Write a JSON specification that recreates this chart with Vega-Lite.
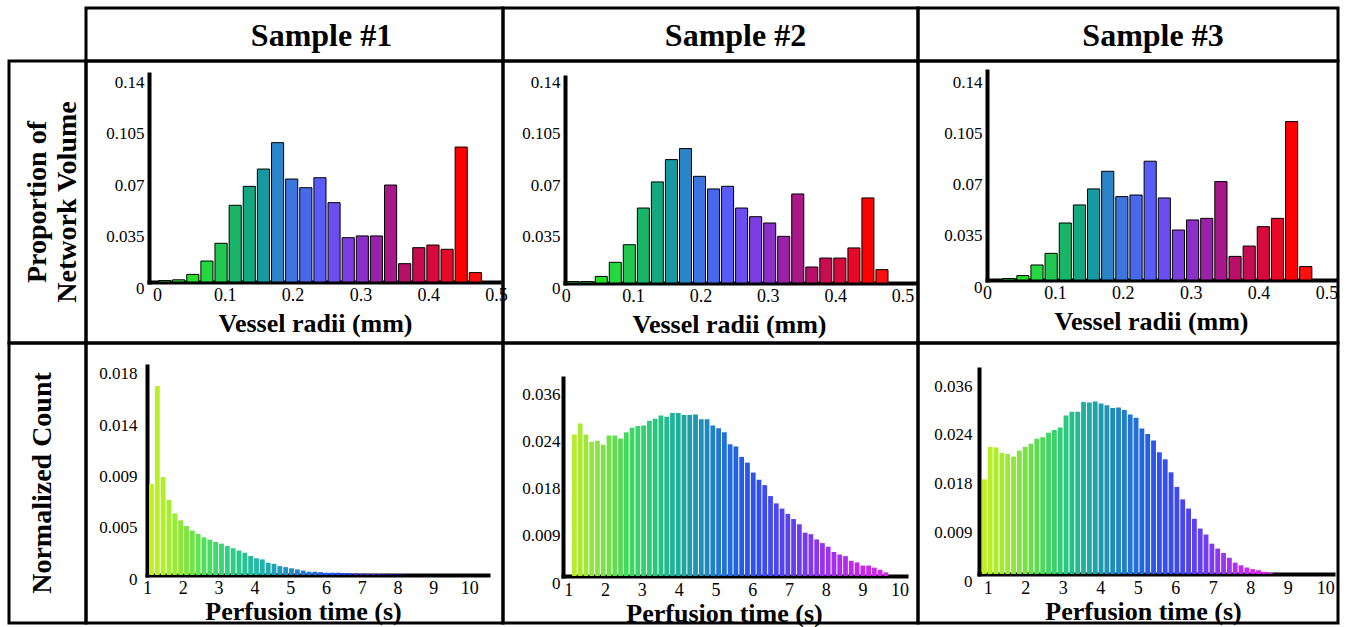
{
  "$schema": "https://vega.github.io/schema/vega-lite/v6.json",
  "background": "white",
  "padding": {"left": 7, "top": 6, "right": 0, "bottom": 0},
  "bounds": "flush",
  "align": "each",
  "columns": 4,
  "spacing": 0,
  "resolve": {"scale": {"color": "independent", "x": "independent", "y": "independent"}},
  "config": {
    "view": {"stroke": "black", "strokeWidth": 3},
    "axis": {
      "domainColor": "black", "domainWidth": 4, "domainCap": "square",
      "ticks": false, "grid": false,
      "labelFont": "Liberation Serif", "labelColor": "black", "labelFontSize": 17,
      "labelFlush": false, "labelOverlap": false, "labelBound": false,
      "titleFont": "Liberation Serif", "titleFontWeight": "bold", "titleColor": "black",
      "zindex": 1
    }
  },
  "datasets": {
    "top": [
      {"r0": 0.0, "r1": 0.0208, "a": 0.001, "b": 0.001, "c": 0.0},
      {"r0": 0.0208, "r1": 0.0417, "a": 0.0015, "b": 0.001, "c": 0.001},
      {"r0": 0.0417, "r1": 0.0625, "a": 0.0052, "b": 0.0045, "c": 0.003},
      {"r0": 0.0625, "r1": 0.0833, "a": 0.0143, "b": 0.0141, "c": 0.0103},
      {"r0": 0.0833, "r1": 0.1042, "a": 0.0264, "b": 0.0261, "c": 0.0183},
      {"r0": 0.1042, "r1": 0.125, "a": 0.0523, "b": 0.0511, "c": 0.0391},
      {"r0": 0.125, "r1": 0.1458, "a": 0.0652, "b": 0.0689, "c": 0.0515},
      {"r0": 0.1458, "r1": 0.1667, "a": 0.077, "b": 0.0841, "c": 0.0625},
      {"r0": 0.1667, "r1": 0.1875, "a": 0.095, "b": 0.0916, "c": 0.0746},
      {"r0": 0.1875, "r1": 0.2083, "a": 0.0702, "b": 0.0727, "c": 0.0572},
      {"r0": 0.2083, "r1": 0.2292, "a": 0.0643, "b": 0.0641, "c": 0.0583},
      {"r0": 0.2292, "r1": 0.25, "a": 0.0711, "b": 0.0659, "c": 0.0815},
      {"r0": 0.25, "r1": 0.2708, "a": 0.0541, "b": 0.0511, "c": 0.0563},
      {"r0": 0.2708, "r1": 0.2917, "a": 0.0302, "b": 0.0452, "c": 0.0343},
      {"r0": 0.2917, "r1": 0.3125, "a": 0.0314, "b": 0.0409, "c": 0.0412},
      {"r0": 0.3125, "r1": 0.3333, "a": 0.0314, "b": 0.0318, "c": 0.0423},
      {"r0": 0.3333, "r1": 0.3542, "a": 0.0661, "b": 0.0607, "c": 0.0675},
      {"r0": 0.3542, "r1": 0.375, "a": 0.0125, "b": 0.0109, "c": 0.0162},
      {"r0": 0.375, "r1": 0.3958, "a": 0.0234, "b": 0.017, "c": 0.0233},
      {"r0": 0.3958, "r1": 0.4167, "a": 0.0252, "b": 0.017, "c": 0.0366},
      {"r0": 0.4167, "r1": 0.4375, "a": 0.0223, "b": 0.0239, "c": 0.0423},
      {"r0": 0.4375, "r1": 0.4583, "a": 0.092, "b": 0.058, "c": 0.1087},
      {"r0": 0.4583, "r1": 0.4792, "a": 0.0064, "b": 0.0091, "c": 0.0092}
    ],
    "bot1": [
      {"t": 1.030, "t2": 1.193, "v": 0.0080},
      {"t": 1.193, "t2": 1.356, "v": 0.0166},
      {"t": 1.356, "t2": 1.519, "v": 0.0086},
      {"t": 1.519, "t2": 1.682, "v": 0.0066},
      {"t": 1.682, "t2": 1.845, "v": 0.0054},
      {"t": 1.845, "t2": 2.008, "v": 0.0048},
      {"t": 2.008, "t2": 2.171, "v": 0.0043},
      {"t": 2.171, "t2": 2.334, "v": 0.0039},
      {"t": 2.334, "t2": 2.497, "v": 0.0036},
      {"t": 2.497, "t2": 2.660, "v": 0.0033},
      {"t": 2.660, "t2": 2.823, "v": 0.0031},
      {"t": 2.823, "t2": 2.986, "v": 0.0029},
      {"t": 2.986, "t2": 3.149, "v": 0.00275},
      {"t": 3.149, "t2": 3.312, "v": 0.00255},
      {"t": 3.312, "t2": 3.475, "v": 0.00235},
      {"t": 3.475, "t2": 3.638, "v": 0.00215},
      {"t": 3.638, "t2": 3.801, "v": 0.00196},
      {"t": 3.801, "t2": 3.964, "v": 0.00167},
      {"t": 3.964, "t2": 4.127, "v": 0.00147},
      {"t": 4.127, "t2": 4.290, "v": 0.00137},
      {"t": 4.290, "t2": 4.453, "v": 0.00108},
      {"t": 4.453, "t2": 4.616, "v": 0.00098},
      {"t": 4.616, "t2": 4.779, "v": 0.00078},
      {"t": 4.779, "t2": 4.942, "v": 0.00069},
      {"t": 4.942, "t2": 5.105, "v": 0.00059},
      {"t": 5.105, "t2": 5.268, "v": 0.00049},
      {"t": 5.268, "t2": 5.431, "v": 0.00039},
      {"t": 5.431, "t2": 5.594, "v": 0.00029},
      {"t": 5.594, "t2": 5.757, "v": 0.00029},
      {"t": 5.757, "t2": 5.920, "v": 0.00025},
      {"t": 5.920, "t2": 6.083, "v": 0.0002},
      {"t": 6.083, "t2": 6.246, "v": 0.0002},
      {"t": 6.246, "t2": 6.409, "v": 0.0002},
      {"t": 6.409, "t2": 6.572, "v": 0.00017},
      {"t": 6.572, "t2": 6.735, "v": 0.00015},
      {"t": 6.735, "t2": 6.898, "v": 0.00013},
      {"t": 6.898, "t2": 7.061, "v": 0.00011},
      {"t": 7.061, "t2": 7.224, "v": 0.0001},
      {"t": 7.224, "t2": 7.387, "v": 0.00008},
      {"t": 7.387, "t2": 7.550, "v": 0.00007},
      {"t": 7.550, "t2": 7.713, "v": 0.00006},
      {"t": 7.713, "t2": 7.876, "v": 0.00005},
      {"t": 7.876, "t2": 8.039, "v": 0.00004},
      {"t": 8.039, "t2": 8.202, "v": 0.00003}
    ],
    "bot2": [
      {"t": 1.074, "t2": 1.231, "v": 0.0271},
      {"t": 1.231, "t2": 1.388, "v": 0.0292},
      {"t": 1.388, "t2": 1.544, "v": 0.0271},
      {"t": 1.544, "t2": 1.701, "v": 0.0257},
      {"t": 1.701, "t2": 1.858, "v": 0.0259},
      {"t": 1.858, "t2": 2.015, "v": 0.0251},
      {"t": 2.015, "t2": 2.172, "v": 0.0269},
      {"t": 2.172, "t2": 2.328, "v": 0.0269},
      {"t": 2.328, "t2": 2.485, "v": 0.0263},
      {"t": 2.485, "t2": 2.642, "v": 0.0275},
      {"t": 2.642, "t2": 2.799, "v": 0.0284},
      {"t": 2.799, "t2": 2.956, "v": 0.0287},
      {"t": 2.956, "t2": 3.112, "v": 0.0288},
      {"t": 3.112, "t2": 3.269, "v": 0.0297},
      {"t": 3.269, "t2": 3.426, "v": 0.0301},
      {"t": 3.426, "t2": 3.583, "v": 0.0307},
      {"t": 3.583, "t2": 3.740, "v": 0.0305},
      {"t": 3.740, "t2": 3.896, "v": 0.0312},
      {"t": 3.896, "t2": 4.053, "v": 0.0312},
      {"t": 4.053, "t2": 4.210, "v": 0.0308},
      {"t": 4.210, "t2": 4.367, "v": 0.0308},
      {"t": 4.367, "t2": 4.524, "v": 0.0309},
      {"t": 4.524, "t2": 4.680, "v": 0.0300},
      {"t": 4.680, "t2": 4.837, "v": 0.0300},
      {"t": 4.837, "t2": 4.994, "v": 0.0288},
      {"t": 4.994, "t2": 5.151, "v": 0.0283},
      {"t": 5.151, "t2": 5.308, "v": 0.0275},
      {"t": 5.308, "t2": 5.464, "v": 0.0252},
      {"t": 5.464, "t2": 5.621, "v": 0.0248},
      {"t": 5.621, "t2": 5.778, "v": 0.0228},
      {"t": 5.778, "t2": 5.935, "v": 0.0217},
      {"t": 5.935, "t2": 6.092, "v": 0.0198},
      {"t": 6.092, "t2": 6.248, "v": 0.0184},
      {"t": 6.248, "t2": 6.405, "v": 0.0174},
      {"t": 6.405, "t2": 6.562, "v": 0.0153},
      {"t": 6.562, "t2": 6.719, "v": 0.0139},
      {"t": 6.719, "t2": 6.876, "v": 0.0129},
      {"t": 6.876, "t2": 7.032, "v": 0.0119},
      {"t": 7.032, "t2": 7.189, "v": 0.0109},
      {"t": 7.189, "t2": 7.346, "v": 0.0099},
      {"t": 7.346, "t2": 7.503, "v": 0.0083},
      {"t": 7.503, "t2": 7.660, "v": 0.0080},
      {"t": 7.660, "t2": 7.816, "v": 0.0070},
      {"t": 7.816, "t2": 7.973, "v": 0.0063},
      {"t": 7.973, "t2": 8.130, "v": 0.0056},
      {"t": 8.130, "t2": 8.287, "v": 0.0046},
      {"t": 8.287, "t2": 8.444, "v": 0.0041},
      {"t": 8.444, "t2": 8.600, "v": 0.0038},
      {"t": 8.600, "t2": 8.757, "v": 0.0029},
      {"t": 8.757, "t2": 8.914, "v": 0.0026},
      {"t": 8.914, "t2": 9.071, "v": 0.0020},
      {"t": 9.071, "t2": 9.228, "v": 0.0020},
      {"t": 9.228, "t2": 9.384, "v": 0.0016},
      {"t": 9.384, "t2": 9.541, "v": 0.0012},
      {"t": 9.541, "t2": 9.698, "v": 0.0007}
    ],
    "bot3": [
      {"t": 0.820, "t2": 0.976, "v": 0.0175},
      {"t": 0.976, "t2": 1.131, "v": 0.0235},
      {"t": 1.131, "t2": 1.287, "v": 0.0234},
      {"t": 1.287, "t2": 1.442, "v": 0.0224},
      {"t": 1.442, "t2": 1.598, "v": 0.0222},
      {"t": 1.598, "t2": 1.754, "v": 0.0217},
      {"t": 1.754, "t2": 1.909, "v": 0.0228},
      {"t": 1.909, "t2": 2.065, "v": 0.0235},
      {"t": 2.065, "t2": 2.220, "v": 0.0241},
      {"t": 2.220, "t2": 2.376, "v": 0.0250},
      {"t": 2.376, "t2": 2.532, "v": 0.0253},
      {"t": 2.532, "t2": 2.687, "v": 0.0261},
      {"t": 2.687, "t2": 2.843, "v": 0.0266},
      {"t": 2.843, "t2": 2.998, "v": 0.0271},
      {"t": 2.998, "t2": 3.154, "v": 0.0293},
      {"t": 3.154, "t2": 3.310, "v": 0.0300},
      {"t": 3.310, "t2": 3.465, "v": 0.0300},
      {"t": 3.465, "t2": 3.621, "v": 0.0318},
      {"t": 3.621, "t2": 3.776, "v": 0.0317},
      {"t": 3.776, "t2": 3.932, "v": 0.0319},
      {"t": 3.932, "t2": 4.088, "v": 0.0315},
      {"t": 4.088, "t2": 4.243, "v": 0.0312},
      {"t": 4.243, "t2": 4.399, "v": 0.0307},
      {"t": 4.399, "t2": 4.554, "v": 0.0308},
      {"t": 4.554, "t2": 4.710, "v": 0.0303},
      {"t": 4.710, "t2": 4.866, "v": 0.0295},
      {"t": 4.866, "t2": 5.021, "v": 0.0289},
      {"t": 5.021, "t2": 5.177, "v": 0.0269},
      {"t": 5.177, "t2": 5.332, "v": 0.0259},
      {"t": 5.332, "t2": 5.488, "v": 0.0247},
      {"t": 5.488, "t2": 5.644, "v": 0.0225},
      {"t": 5.644, "t2": 5.799, "v": 0.0212},
      {"t": 5.799, "t2": 5.955, "v": 0.0188},
      {"t": 5.955, "t2": 6.110, "v": 0.0161},
      {"t": 6.110, "t2": 6.266, "v": 0.0138},
      {"t": 6.266, "t2": 6.422, "v": 0.0121},
      {"t": 6.422, "t2": 6.577, "v": 0.0102},
      {"t": 6.577, "t2": 6.733, "v": 0.0084},
      {"t": 6.733, "t2": 6.888, "v": 0.0073},
      {"t": 6.888, "t2": 7.044, "v": 0.0056},
      {"t": 7.044, "t2": 7.200, "v": 0.0047},
      {"t": 7.200, "t2": 7.355, "v": 0.0039},
      {"t": 7.355, "t2": 7.511, "v": 0.0030},
      {"t": 7.511, "t2": 7.666, "v": 0.0021},
      {"t": 7.666, "t2": 7.822, "v": 0.0016},
      {"t": 7.822, "t2": 7.978, "v": 0.0012},
      {"t": 7.978, "t2": 8.133, "v": 0.0009},
      {"t": 8.133, "t2": 8.289, "v": 0.0007},
      {"t": 8.289, "t2": 8.444, "v": 0.0004},
      {"t": 8.444, "t2": 8.600, "v": 0.0002}
    ]
  },
  "concat": [
    {"width": 77, "height": 53, "view": {"stroke": null}, "data": {"values": [{"t": ""}]}, "mark": {"type": "text"}, "encoding": {"text": {"field": "t"}}},
    {"width": 417, "height": 53, "data": {"values": [{"t": "Sample #1"}]}, "mark": {"type": "text", "font": "Liberation Serif", "fontWeight": "bold", "fontSize": 32, "align": "center", "baseline": "middle", "dx": 27, "dy": 1, "color": "black"},
     "encoding": {"text": {"field": "t"}, "x": {"datum": 0, "type": "quantitative", "scale": {"domain": [-1, 1]}, "axis": null}, "y": {"datum": 0, "type": "quantitative", "scale": {"domain": [-1, 1]}, "axis": null}}},
    {"width": 415, "height": 53, "data": {"values": [{"t": "Sample #2"}]}, "mark": {"type": "text", "font": "Liberation Serif", "fontWeight": "bold", "fontSize": 32, "align": "center", "baseline": "middle", "dx": 25, "dy": 1, "color": "black"},
     "encoding": {"text": {"field": "t"}, "x": {"datum": 0, "type": "quantitative", "scale": {"domain": [-1, 1]}, "axis": null}, "y": {"datum": 0, "type": "quantitative", "scale": {"domain": [-1, 1]}, "axis": null}}},
    {"width": 420, "height": 53, "data": {"values": [{"t": "Sample #3"}]}, "mark": {"type": "text", "font": "Liberation Serif", "fontWeight": "bold", "fontSize": 32, "align": "center", "baseline": "middle", "dx": 25, "dy": 1, "color": "black"},
     "encoding": {"text": {"field": "t"}, "x": {"datum": 0, "type": "quantitative", "scale": {"domain": [-1, 1]}, "axis": null}, "y": {"datum": 0, "type": "quantitative", "scale": {"domain": [-1, 1]}, "axis": null}}},
    {"width": 77, "height": 282, "data": {"values": [{"t": "Proportion of\nNetwork Volume"}]}, "mark": {"type": "text", "angle": 270, "lineBreak": "\n", "font": "Liberation Serif", "fontWeight": "bold", "fontSize": 28, "lineHeight": 30, "align": "center", "baseline": "middle", "dy": -10, "color": "black"},
     "encoding": {"text": {"field": "t"}, "x": {"datum": 0, "type": "quantitative", "scale": {"domain": [-1, 1]}, "axis": null}, "y": {"datum": 0, "type": "quantitative", "scale": {"domain": [-1, 1]}, "axis": null}}},
    {
      "width": 417, "height": 282, "data": {"name": "top"},
      "mark": {"type": "bar", "stroke": "black", "strokeWidth": 1, "binSpacing": 2},
      "encoding": {
        "x": {"field": "r0", "type": "quantitative", "bin": {"binned": true},
              "scale": {"domain": [-0.0118, 0.5044], "range": [63, 413], "nice": false, "zero": false},
              "axis": {"values": [0, 0.1, 0.2, 0.3, 0.4, 0.5], "format": ".1~f", "offset": -61, "labelPadding": 4, "labelFontSize": 18, "title": "Vessel radii (mm)", "titleFontSize": 26, "titlePadding": 6, "titleX": 229}},
        "x2": {"field": "r1"},
        "y": {"field": "a", "type": "quantitative", "stack": null,
              "scale": {"domain": [0, 0.1418], "range": [221, 13], "nice": false, "zero": false},
              "axis": {"values": [0, 0.035, 0.07, 0.105, 0.14], "format": ".3~f", "offset": -63, "labelPadding": 5, "labelOffset": 6, "title": null}},
        "color": {"field": "r0", "type": "quantitative", "legend": null,
                  "scale": {"interpolate": "rgb", "domain": [0, 0.0417, 0.0625, 0.0833, 0.1042, 0.125, 0.1458, 0.1667, 0.1875, 0.2083, 0.2292, 0.25, 0.2708, 0.2917, 0.3125, 0.3333, 0.3542, 0.375, 0.3958, 0.4167, 0.4375, 0.4583],
                            "range": ["#20d828", "#28e028", "#24d840", "#20c850", "#18b468", "#14a880", "#1898a0", "#2c84c8", "#3c74e0", "#4868ec", "#5a5cfa", "#6c4ef0", "#7c3ee0", "#8c2ec8", "#9a22a8", "#a81888", "#b81068", "#c80c50", "#d80a3c", "#e80828", "#ff0000", "#ff1010"]}}
      }
    },
    {
      "width": 415, "height": 282, "data": {"name": "top"},
      "mark": {"type": "bar", "stroke": "black", "strokeWidth": 1, "binSpacing": 2},
      "encoding": {
        "x": {"field": "r0", "type": "quantitative", "bin": {"binned": true},
              "scale": {"domain": [-0.001, 0.52], "range": [62, 413], "nice": false, "zero": false},
              "axis": {"values": [0, 0.1, 0.2, 0.3, 0.4, 0.5], "format": ".1~f", "offset": -60, "labelPadding": 4, "labelFontSize": 18, "title": "Vessel radii (mm)", "titleFontSize": 26, "titlePadding": 6, "titleX": 226}},
        "x2": {"field": "r1"},
        "y": {"field": "b", "type": "quantitative", "stack": null,
              "scale": {"domain": [0, 0.1404], "range": [222, 16], "nice": false, "zero": false},
              "axis": {"values": [0, 0.035, 0.07, 0.105, 0.14], "format": ".3~f", "offset": -62, "labelPadding": 5, "labelOffset": 5, "title": null}},
        "color": {"field": "r0", "type": "quantitative", "legend": null,
                  "scale": {"interpolate": "rgb", "domain": [0, 0.0417, 0.0625, 0.0833, 0.1042, 0.125, 0.1458, 0.1667, 0.1875, 0.2083, 0.2292, 0.25, 0.2708, 0.2917, 0.3125, 0.3333, 0.3542, 0.375, 0.3958, 0.4167, 0.4375, 0.4583],
                            "range": ["#20d828", "#28e028", "#24d840", "#20c850", "#18b468", "#14a880", "#1898a0", "#2c84c8", "#3c74e0", "#4868ec", "#5a5cfa", "#6c4ef0", "#7c3ee0", "#8c2ec8", "#9a22a8", "#a81888", "#b81068", "#c80c50", "#d80a3c", "#e80828", "#ff0000", "#ff1010"]}}
      }
    },
    {
      "width": 420, "height": 282, "data": {"name": "top"},
      "mark": {"type": "bar", "stroke": "black", "strokeWidth": 1, "binSpacing": 2},
      "encoding": {
        "x": {"field": "r0", "type": "quantitative", "bin": {"binned": true},
              "scale": {"domain": [0, 0.514], "range": [69, 418], "nice": false, "zero": false},
              "axis": {"values": [0, 0.1, 0.2, 0.3, 0.4, 0.5], "format": ".1~f", "offset": -63, "labelPadding": 4, "labelFontSize": 18, "title": "Vessel radii (mm)", "titleFontSize": 26, "titlePadding": 6, "titleX": 233}},
        "x2": {"field": "r1"},
        "y": {"field": "c", "type": "quantitative", "stack": null,
              "scale": {"domain": [0, 0.1434], "range": [219, 10], "nice": false, "zero": false},
              "axis": {"values": [0, 0.035, 0.07, 0.105, 0.14], "format": ".3~f", "offset": -69, "labelPadding": 5, "labelOffset": 7, "title": null}},
        "color": {"field": "r0", "type": "quantitative", "legend": null,
                  "scale": {"interpolate": "rgb", "domain": [0, 0.0417, 0.0625, 0.0833, 0.1042, 0.125, 0.1458, 0.1667, 0.1875, 0.2083, 0.2292, 0.25, 0.2708, 0.2917, 0.3125, 0.3333, 0.3542, 0.375, 0.3958, 0.4167, 0.4375, 0.4583],
                            "range": ["#20d828", "#28e028", "#24d840", "#20c850", "#18b468", "#14a880", "#1898a0", "#2c84c8", "#3c74e0", "#4868ec", "#5a5cfa", "#6c4ef0", "#7c3ee0", "#8c2ec8", "#9a22a8", "#a81888", "#b81068", "#c80c50", "#d80a3c", "#e80828", "#ff0000", "#ff1010"]}}
      }
    },
    {"width": 77, "height": 280, "data": {"values": [{"t": "Normalized  Count"}]}, "mark": {"type": "text", "angle": 270, "font": "Liberation Serif", "fontWeight": "bold", "fontSize": 28, "align": "center", "baseline": "middle", "dy": -5, "color": "black"},
     "encoding": {"text": {"field": "t"}, "x": {"datum": 0, "type": "quantitative", "scale": {"domain": [-1, 1]}, "axis": null}, "y": {"datum": 0, "type": "quantitative", "scale": {"domain": [-1, 1]}, "axis": null}}},
    {
      "width": 417, "height": 280, "data": {"name": "bot1"},
      "mark": {"type": "bar", "binSpacing": 1},
      "encoding": {
        "x": {"field": "t", "type": "quantitative", "bin": {"binned": true},
              "scale": {"domain": [1.0, 10.527], "range": [61, 402], "nice": false, "zero": false},
              "axis": {"values": [1, 2, 3, 4, 5, 6, 7, 8, 9, 10], "format": "d", "offset": -48, "labelPadding": 4, "labelFontSize": 18, "title": "Perfusion time (s)", "titleFontSize": 26, "titlePadding": 1, "titleX": 217}},
        "x2": {"field": "t2"},
        "y": {"field": "v", "type": "quantitative", "stack": null,
              "scale": {"domain": [0, 0.01835], "range": [232, 23], "nice": false, "zero": false},
              "axis": {"values": [0, 0.0045, 0.009, 0.0135, 0.018], "labelExpr": "datum.value < 0.001 ? '0' : datum.value < 0.006 ? '0.005' : datum.value < 0.01 ? '0.009' : datum.value < 0.015 ? '0.014' : '0.018'", "offset": -61, "labelPadding": 10, "labelOffset": 4, "title": null}},
        "color": {"field": "t", "type": "quantitative", "legend": null,
                  "scale": {"interpolate": "rgb", "domain": [1.03, 1.5, 2, 2.5, 3, 3.5, 4, 4.5, 5, 5.5, 6, 6.5, 7, 8.2],
                            "range": ["#c4f020", "#a8ee2c", "#7ce83c", "#50e058", "#34d874", "#26c890", "#20b8a4", "#20a0b8", "#2088d0", "#2070e0", "#2058ec", "#2440f0", "#3030f0", "#4020e0"]}}
      }
    },
    {
      "width": 415, "height": 280, "data": {"name": "bot2"},
      "mark": {"type": "bar", "binSpacing": 1},
      "encoding": {
        "x": {"field": "t", "type": "quantitative", "bin": {"binned": true},
              "scale": {"domain": [0.856, 10.18], "range": [60, 403], "nice": false, "zero": false},
              "axis": {"values": [1, 2, 3, 4, 5, 6, 7, 8, 9, 10], "format": "d", "offset": -47, "labelPadding": 5, "labelFontSize": 18, "title": "Perfusion time (s)", "titleFontSize": 26, "titlePadding": 1, "titleX": 221}},
        "x2": {"field": "t2"},
        "y": {"field": "v", "type": "quantitative", "stack": null,
              "scale": {"domain": [0, 0.0379], "range": [233, 35], "nice": false, "zero": false},
              "axis": {"values": [0, 0.009, 0.018, 0.027, 0.036], "labelExpr": "datum.value < 0.001 ? '0' : datum.value < 0.01 ? '0.009' : datum.value < 0.02 ? '0.018' : datum.value < 0.03 ? '0.024' : '0.036'", "offset": -60, "labelPadding": 3, "labelOffset": 7, "title": null}},
        "color": {"field": "t", "type": "quantitative", "legend": null,
                  "scale": {"interpolate": "rgb", "domain": [1.07, 2, 2.5, 3, 3.5, 4, 4.5, 5, 5.5, 6, 6.5, 7, 7.5, 8, 8.5, 9, 9.7],
                            "range": ["#b8ea30", "#72e048", "#44d860", "#30d074", "#22c088", "#20a8a0", "#2090b8", "#2078d0", "#2060e8", "#3050f0", "#4848f0", "#6040f0", "#8038f0", "#a030f0", "#b828f0", "#c828ee", "#d828e8"]}}
      }
    },
    {
      "width": 420, "height": 280, "data": {"name": "bot3"},
      "mark": {"type": "bar", "binSpacing": 1},
      "encoding": {
        "x": {"field": "t", "type": "quantitative", "bin": {"binned": true},
              "scale": {"domain": [0.768, 10.21], "range": [61, 415], "nice": false, "zero": false},
              "axis": {"values": [1, 2, 3, 4, 5, 6, 7, 8, 9, 10], "format": "d", "offset": -49, "labelPadding": 5, "labelFontSize": 18, "title": "Perfusion time (s)", "titleFontSize": 26, "titlePadding": 1, "titleX": 225}},
        "x2": {"field": "t2"},
        "y": {"field": "v", "type": "quantitative", "stack": null,
              "scale": {"domain": [0, 0.0379], "range": [231, 26], "nice": false, "zero": false},
              "axis": {"values": [0, 0.009, 0.018, 0.027, 0.036], "labelExpr": "datum.value < 0.001 ? '0' : datum.value < 0.01 ? '0.009' : datum.value < 0.02 ? '0.018' : datum.value < 0.03 ? '0.024' : '0.036'", "offset": -61, "labelPadding": 7, "labelOffset": 7, "title": null}},
        "color": {"field": "t", "type": "quantitative", "legend": null,
                  "scale": {"interpolate": "rgb", "domain": [0.82, 1.5, 2, 2.5, 3, 3.5, 4, 4.5, 5, 5.5, 6, 6.5, 7, 7.5, 8, 8.5],
                            "range": ["#c0f020", "#98e838", "#70e048", "#40d860", "#28c880", "#20b0a0", "#2098b0", "#2080c8", "#2068e0", "#3050f0", "#4048f0", "#6040f0", "#8838f0", "#b030f0", "#d028f0", "#e020f0"]}}
      }
    }
  ]
}
